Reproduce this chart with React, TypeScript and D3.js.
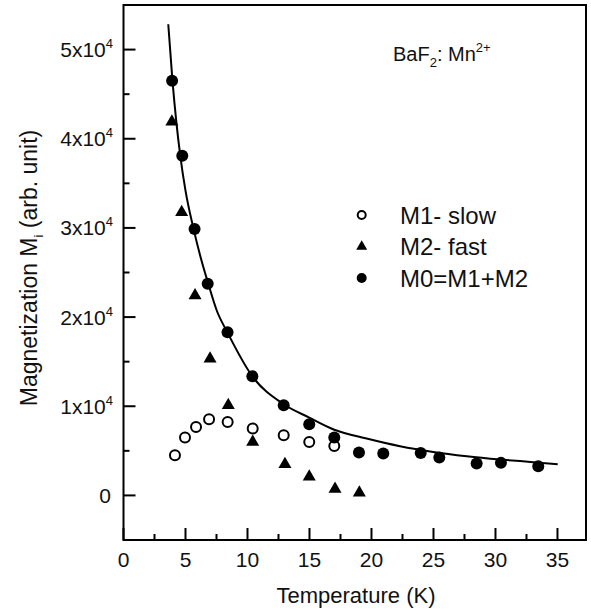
import React from "react";
import * as d3 from "d3";

// ---- data ----
const m0T = [3.92, 4.74, 5.73, 6.79, 8.39, 10.39, 12.92, 14.98, 17.0, 18.99, 20.95, 23.97, 25.47, 28.48, 30.44, 33.45];
const m0M = [46500, 38090, 29890, 23730, 18310, 13360, 10110, 7980, 6490, 4810, 4700, 4770, 4250, 3580, 3650, 3280];

const m1T = [4.15, 4.96, 5.85, 6.9, 8.4, 10.42, 12.92, 14.98, 17.0];
const m1M = [4510, 6490, 7680, 8540, 8240, 7500, 6740, 6000, 5550];

const m2T = [3.9, 4.69, 5.77, 6.98, 8.45, 10.42, 13.02, 14.98, 17.06, 19.02];
const m2M = [41900, 31750, 22420, 15340, 10110, 6000, 3500, 2080, 710, 290];

// fitted line, points
const fitT = [3.61, 3.95, 4.26, 4.58, 5.0, 5.65, 6.29, 6.84, 7.52, 8.37, 10.39, 12.92, 14.98, 17.0, 19.61, 22.3, 24.98, 27.68, 30.36, 33.05, 35.02];
const fitM = [52840, 46490, 41900, 38090, 34180, 29890, 26340, 23730, 20740, 18310, 13360, 10220, 8730, 7370, 6380, 5520, 4880, 4400, 4030, 3730, 3500];

const xMajor = [0, 5, 10, 15, 20, 25, 30, 35];
const xMinor = [2.5, 7.5, 12.5, 17.5, 22.5, 27.5, 32.5];
const yMajor = [0, 10000, 20000, 30000, 40000, 50000];
const yMajorLabels = ["0", "1x10", "2x10", "3x10", "4x10", "5x10"];
const yMinor = [5000, 15000, 25000, 35000, 45000];

const legendLabels = ["M1- slow", "M2- fast", "M0=M1+M2"];

const FONT = "Arial, 'Liberation Sans', Helvetica, sans-serif";

export default function App() {
  const W = 591, H = 615;
  const left = 123.5, right = 586, top = 5, bottom = 540;
  const x = d3.scaleLinear().domain([0, 37.3]).range([left, right]);
  const y = d3.scaleLinear().domain([-5000, 55000]).range([bottom, top]);

  const fitPts: [number, number][] = fitT.map((t, i) => [t, fitM[i]]);
  const line = d3
    .line<[number, number]>()
    .x((d) => x(d[0]))
    .y((d) => y(d[1]))
    .curve(d3.curveMonotoneX);

  const tri = (cx: number, cy: number, s: number) => {
    const h = (s * Math.sqrt(3)) / 2;
    return `M${cx},${cy - (2 * h) / 3}L${cx + s / 2},${cy + h / 3}L${cx - s / 2},${cy + h / 3}Z`;
  };

  const legX = 361.7;
  const legY = [215, 246.5, 278];

  return (
    <svg
      width={W}
      height={H}
      style={{ position: "absolute", left: 0, top: 0, background: "#fff" }}
      fontFamily={FONT}
    >
      <rect x={0} y={0} width={W} height={H} fill="#fff" />
      {/* frame */}
      <rect x={left} y={top} width={right - left} height={bottom - top} fill="none" stroke="#000" strokeWidth={2} />

      {/* x ticks */}
      {xMajor.map((t) => (
        <g key={"xm" + t}>
          <line x1={x(t)} x2={x(t)} y1={bottom} y2={bottom - 12} stroke="#000" strokeWidth={2} />
          <text x={x(t)} y={567} fontSize={21} textAnchor="middle" fill="#111">
            {t}
          </text>
        </g>
      ))}
      {xMinor.map((t) => (
        <line key={"xn" + t} x1={x(t)} x2={x(t)} y1={bottom} y2={bottom - 6} stroke="#000" strokeWidth={2} />
      ))}

      {/* y ticks */}
      {yMajor.map((v, i) => (
        <g key={"ym" + v}>
          <line x1={left} x2={left + 12} y1={y(v)} y2={y(v)} stroke="#000" strokeWidth={2} />
          <text x={v === 0 ? 111 : 113} y={y(v) + 7.5} fontSize={21} textAnchor="end" fill="#111">
            {v === 0 ? (
              "0"
            ) : (
              <>
                {yMajorLabels[i]}
                <tspan fontSize={13} dy={-9}>
                  4
                </tspan>
              </>
            )}
          </text>
        </g>
      ))}
      {yMinor.map((v) => (
        <line key={"yn" + v} x1={left} x2={left + 6} y1={y(v)} y2={y(v)} stroke="#000" strokeWidth={2} />
      ))}

      {/* axis titles */}
      <text x={356} y={603} fontSize={22} textAnchor="middle" fill="#111">
        Temperature (K)
      </text>
      <text
        transform={`translate(37,268) rotate(-90)`}
        fontSize={23}
        textAnchor="middle"
        fill="#111"
      >
        Magnetization M
        <tspan fontSize={13} dy={6}>
          i
        </tspan>
        <tspan dy={-6}> (arb. unit)</tspan>
      </text>

      {/* annotation */}
      <text x={393} y={61} fontSize={20} fill="#111">
        BaF
        <tspan fontSize={13} dy={6}>
          2
        </tspan>
        <tspan dy={-6}>: Mn</tspan>
        <tspan fontSize={13} dy={-9}>
          2+
        </tspan>
      </text>

      {/* fit curve */}
      <path d={line(fitPts) || ""} fill="none" stroke="#000" strokeWidth={2} />

      {/* M1 open circles */}
      {m1T.map((t, i) => (
        <circle key={"m1" + i} cx={x(t)} cy={y(m1M[i])} r={5} fill="#fff" stroke="#000" strokeWidth={2} />
      ))}
      {/* M2 triangles */}
      {m2T.map((t, i) => (
        <path key={"m2" + i} d={tri(x(t), y(m2M[i]), 13)} fill="#000" />
      ))}
      {/* M0 filled circles */}
      {m0T.map((t, i) => (
        <circle key={"m0" + i} cx={x(t)} cy={y(m0M[i])} r={6} fill="#000" />
      ))}

      {/* legend */}
      <circle cx={legX} cy={legY[0]} r={4} fill="#fff" stroke="#000" strokeWidth={2} />
      <path d={tri(legX, legY[1], 11)} fill="#000" />
      <circle cx={legX} cy={legY[2]} r={5} fill="#000" />
      {legendLabels.map((l, i) => (
        <text key={l} x={400} y={legY[i] + 8.5} fontSize={24} fill="#111">
          {l}
        </text>
      ))}
    </svg>
  );
}
